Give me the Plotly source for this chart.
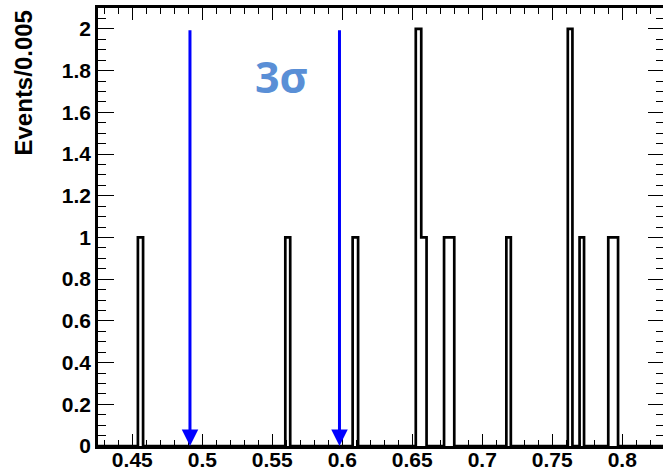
import plotly.graph_objects as go

# ---- data ----
bin_lo = [0.4540, 0.5593, 0.6074, 0.6525, 0.6564, 0.6727, 0.6764, 0.7172, 0.7611, 0.7695, 0.7900, 0.7935]
bin_hi = [0.4577, 0.5628, 0.6113, 0.6564, 0.6602, 0.6764, 0.6800, 0.7204, 0.7644, 0.7727, 0.7935, 0.7970]
counts = [1, 1, 1, 2, 1, 1, 1, 1, 2, 1, 1, 1]
arrow_x = [0.4912, 0.5980]
arrow_top = 2.0
label_text = "3σ"
label_pos = (0.5566, 1.77)
x_range = [0.4255, 0.8291]
y_range = [0, 2.1]
y_title = "Events/0.005"

# ---- build ROOT-like histogram outline ----
xs, ys = [x_range[0]], [0]
n = len(bin_lo)
for i in range(n):
    contig_prev = i > 0 and abs(bin_lo[i] - bin_hi[i - 1]) < 1e-9
    contig_next = i < n - 1 and abs(bin_lo[i + 1] - bin_hi[i]) < 1e-9
    if not contig_prev:
        xs.append(bin_lo[i]); ys.append(0)
    xs += [bin_lo[i], bin_hi[i]]
    ys += [counts[i], counts[i]]
    if not contig_next:
        xs.append(bin_hi[i]); ys.append(0)
xs.append(x_range[1]); ys.append(0)

fig = go.Figure()
fig.add_trace(go.Scatter(x=xs, y=ys, mode="lines",
                         line=dict(color="black", width=2.7),
                         hoverinfo="skip", showlegend=False))
# dummy trace for right-hand tick axis
fig.add_trace(go.Scatter(x=[x_range[0]], y=[0], yaxis="y2", mode="markers",
                         marker=dict(opacity=0), hoverinfo="skip", showlegend=False))

tickfont = dict(family="Liberation Sans, Arial, sans-serif", size=21, color="black",
                weight="bold")

fig.update_layout(
    width=663, height=473,
    margin=dict(l=98, r=0, t=8, b=27, autoexpand=False),
    paper_bgcolor="white", plot_bgcolor="white",
    showlegend=False,
    xaxis=dict(range=x_range, tick0=0.45, dtick=0.05, ticks="inside", ticklen=12,
               tickwidth=1, tickcolor="black", showline=True, linewidth=2.5,
               linecolor="black", mirror="ticks", showgrid=False, zeroline=False,
               tickfont=tickfont, automargin=False, ticklabelstandoff=-7,
               minor=dict(dtick=0.01, ticks="inside", ticklen=6, tickwidth=1,
                          tickcolor="black", showgrid=False)),
    yaxis=dict(range=y_range, tick0=0, dtick=0.2, ticks="inside", ticklen=16,
               tickwidth=1, tickcolor="black", showline=True, linewidth=2.5,
               linecolor="black", showgrid=False, zeroline=False,
               tickfont=tickfont, automargin=False,
               minor=dict(dtick=0.05, ticks="inside", ticklen=8, tickwidth=1,
                          tickcolor="black", showgrid=False)),
    yaxis2=dict(range=y_range, overlaying="y", side="right", tick0=0, dtick=0.2,
                ticks="inside", ticklen=15, tickwidth=1, tickcolor="black",
                showline=False, showgrid=False, zeroline=False, showticklabels=False,
                automargin=False,
                minor=dict(dtick=0.05, ticks="inside", ticklen=7, tickwidth=1,
                           tickcolor="black", showgrid=False)),
)

annotations = []
for ax in arrow_x:
    annotations.append(dict(x=ax, y=0, xref="x", yref="y", ax=ax, ay=arrow_top,
                            axref="x", ayref="y", text="", showarrow=True,
                            arrowhead=2, arrowsize=1.1, arrowwidth=3,
                            arrowcolor="#0000ff", standoff=0))
annotations.append(dict(x=label_pos[0], y=label_pos[1], xref="x", yref="y",
                        text="<b>" + label_text + "</b>", showarrow=False,
                        font=dict(family="Open Sans, sans-serif", size=43, color="#5a8fd6"),
                        xanchor="center", yanchor="middle"))
annotations.append(dict(x=-0.131, y=1.0, xref="paper", yref="paper",
                        text="<b>" + y_title + "</b>", showarrow=False, textangle=-90,
                        font=dict(family="Liberation Sans, Arial, sans-serif", size=24, color="black"),
                        xanchor="center", yanchor="top"))
fig.update_layout(annotations=annotations)

fig.write_html("out.html")
